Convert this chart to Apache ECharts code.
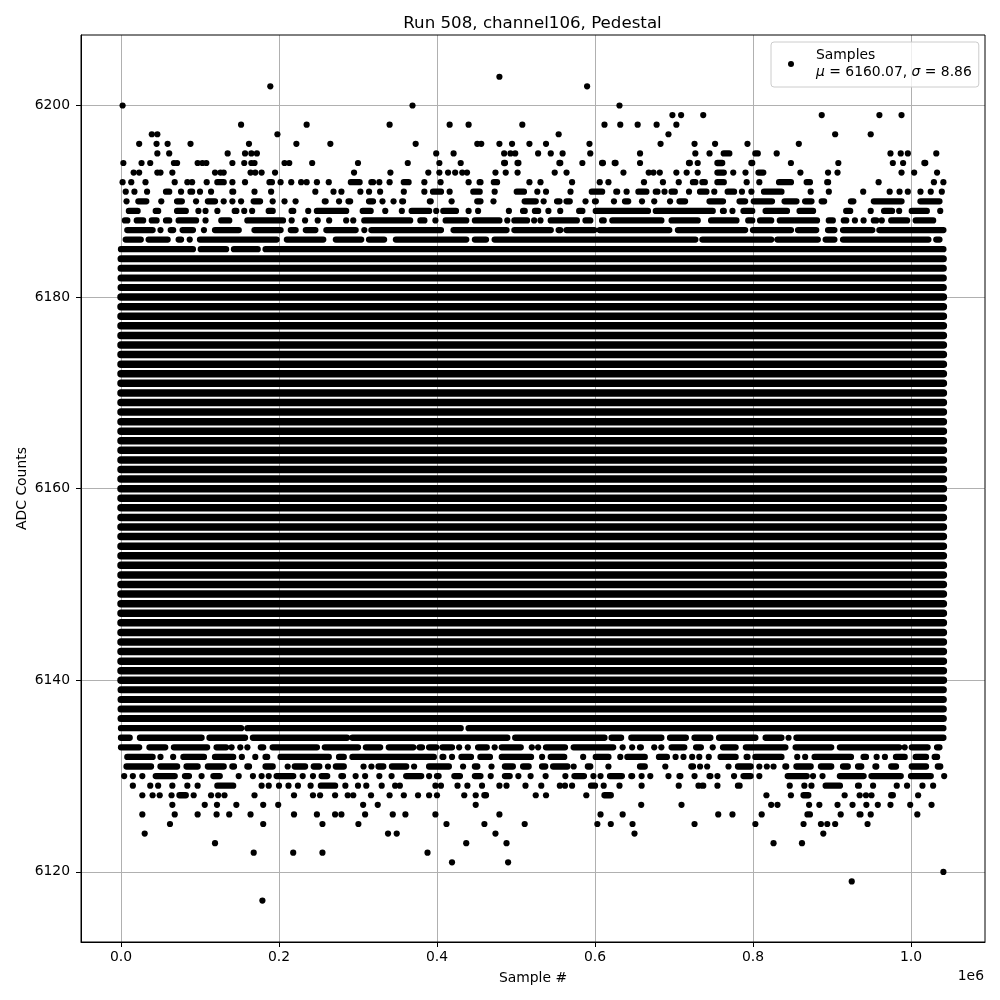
<!DOCTYPE html>
<html><head><meta charset="utf-8">
<script src="https://cdn.jsdelivr.net/npm/echarts@6/dist/echarts.min.js"></script>
<style>html,body{margin:0;padding:0;background:#fff}#c{width:1000px;height:1000px}</style></head>
<body><div id="c"></div>
<script>
const xTicks=[0,200000,400000,600000,800000,1000000];
const yTicks=[6120,6140,6160,6180,6200];
// Readings in thousands of samples per ADC level: a number is one dot, a pair is an unbroken run of dots
const L6203=[479];
const L6202=[189,590];
const L6200=[2,369,631];
const L6199=[698,709,737,887,960,988];
const L6198=[152,235,340,416,440,508,612,632,654,678,703];
const L6197=[39,46,198,554,693,904,949];
const L6196=[23,45,59,88,162,222,265,373,451,456,479,495,517,538,593,683,726,752,793,858];
const L6195=[46,61,135,157,165,172,399,421,485,493,499,528,544,559,594,657,727,745,[760,773],[800,809],830,974,987,996,1032];
const L6194=[3,26,37,67,71,97,103,108,141,156,165,169,207,213,242,300,363,403,430,[482,489],[499,506],[552,559],584,[606,613],[622,629],657,[716,723],730,[752,764],[795,802],848,908,977,[987,993],[1014,1021]];
const L6193=[16,23,46,50,65,119,126,130,164,170,178,195,295,341,389,403,414,423,432,438,474,487,502,549,564,636,668,674,682,703,[713,719],730,[752,766],775,[788,793],[804,816],860,895,907,988,1004,[1030,1036]];
const L6192=[2,13,31,68,84,90,[106,111],[119,133],141,157,[185,194],202,[213,218],228,235,[245,251],[260,266],[288,305],[314,322],327,340,[355,367],384,[402,407],440,[451,458],[469,479],[514,520],531,571,606,617,[659,665],[683,689],706,[721,730],[733,742],[752,766],792,808,[830,851],[865,875],[891,898],959,1029,1041];
const L6191=[[3,9],17,33,[54,64],76,[85,93],100,114,[138,145],169,190,[243,249],269,279,303,[311,317],328,358,384,[392,408],416,[443,457],473,[498,513],527,[535,541],[567,571],[593,612],[624,631],640,[652,668],[674,682],688,[694,704],719,[730,744],751,[765,779],786,798,[811,839],873,[893,899],[937,942],973,[983,988],996,1012,1025,1039];
const L6190=[7,[19,35],51,[68,80],95,[107,122],130,141,[149,155],[165,179],192,207,[219,223],[255,262],276,[285,293],[311,322],331,345,[353,360],[388,395],[416,421],[448,458],[469,474],[508,528],535,[549,558],[561,571],[586,590],[597,604],624,[635,645],[658,661],675,695,[704,717],[742,765],[780,793],[798,827],[837,858],[863,877],[884,893],[921,930],[950,991],[1009,1039]];
const L6189=[[7,24],[41,50],[68,85],98,107,122,[141,149],156,166,[184,195],[213,221],237,[245,288],[303,319],[332,337],[353,358],[365,393],399,[405,427],440,452,491,[506,514],[521,531],541,556,[577,587],[598,670],[674,752],[759,766],774,[785,802],[813,846],[856,879],[915,926],949,[963,979],985,[998,1023],1037];
const L6188=[[2,11],[17,31],[36,48],[54,64],[70,98],107,[124,140],[157,208],216,[231,235],249,[261,266],285,294,[305,369],[376,387],398,[408,440],[445,482],489,[495,517],523,531,[541,580],[585,597],[606,614],[619,687],[694,733],[744,782],[791,802],[806,826],[831,884],[893,904],[912,921],929,940,[950,959],963,[972,998],[1003,1031]];
const L6187=[[5,43],50,[60,69],[75,94],[102,108],[116,152],[166,205],[212,224],[231,249],[257,300],308,[314,408],[418,491],[495,547],[551,559],[561,602],[603,697],[702,793],[797,851],[854,883],[892,906],[911,954],[957,1041]];
const L6186=[[3,28],[32,62],[70,79],87,[97,200],[207,259],[269,307],[311,336],[345,440],[445,465],[470,730],[733,826],[828,885],[889,906],[911,1025],[1029,1039]];
const L6185=[[0,94],[98,136],[140,176],[180,1041]];
const outerLevels=[6136,6137,6138,6139,6181,6182,6183,6184];
const coreLevels=[6140,6141,6142,6143,6144,6145,6146,6147,6148,6149,6150,6151,6152,6153,6154,6155,6156,6157,6158,6159,6160,6161,6162,6163,6164,6165,6166,6167,6168,6169,6170,6171,6172,6173,6174,6175,6176,6177,6178,6179,6180];
const fullRange=[0,1041];
const L6135=[[0,155],[157,433],[437,1041]];
const L6134=[[0,14],[21,105],[109,160],[164,289],[290,492],[496,615],[618,636],[643,687],[692,718],[723,749],[754,806],[813,839],845,[852,1041]];
const L6133=[[0,26],[33,59],[64,112],[118,136],140,151,160,[174,183],[189,251],[255,303],[307,331],[336,373],[375,384],[387,402],[404,422],428,439,[449,466],473,[479,509],520,528,[535,565],[570,626],635,647,[654,661],675,684,[694,716],[725,737],749,[759,781],[788,844],[851,902],[907,988],992,[998,1024],[1030,1039]];
const L6132=[[5,43],50,66,[76,108],[116,145],[150,156],170,[180,188],[199,266],[273,285],[290,399],[404,411],419,[428,446],[452,470],[479,522],533,[541,564],[582,588],[598,620],632,[638,666],[678,694],702,712,723,[731,733],[741,747],[756,781],[789,796],[800,839],856,[864,868],[875,927],[937,946],[954,959],[964,970],[978,995],[1003,1022],[1027,1036]];
const L6131=[[4,41],[47,74],[80,100],[107,133],[138,146],[157,165],[180,195],211,[217,236],[241,254],262,[269,285],307,317,[323,335],[340,364],371,[387,418],433,[445,454],469,[483,499],[506,519],[530,540],[544,568],573,[588,597],[614,620],[654,666],689,[719,727],733,742,769,[778,800],808,[815,820],826,[838,845],[852,876],[883,902],[911,923],[930,940],[952,959],[972,984],[998,1022],[1031,1040]];
const L6130=[4,[12,18],[24,30],[41,71],[78,89],102,[114,128],149,[164,170],178,187,[194,221],230,243,[251,264],[276,284],297,309,327,[340,345],[358,383],390,[397,405],[419,432],[445,458],[465,471],[483,495],503,[516,521],[535,540],[560,565],[571,589],598,607,[616,637],[643,650],659,670,693,[704,711],726,[742,749],755,776,[785,800],808,[841,871],876,888,[907,943],[947,990],[997,1028],1042];
const L6129=[[13,17],37,47,[62,68],[81,87],97,[119,145],178,187,[197,203],212,224,240,[250,274],284,300,[308,313],330,[344,350],353,398,405,426,[436,441],457,479,488,512,532,[553,558],562,571,[592,603],611,631,659,706,731,[733,740],755,[778,786],[844,849],865,874,[889,913],[930,937],952,982,[992,998],[1012,1017],1028];
const L6128=[27,40,49,64,[71,85],92,114,123,131,169,219,[241,245],252,271,287,294,[314,319],340,358,[373,379],390,400,[432,437],449,[457,465],525,538,589,[609,623],817,[845,851],[861,873],916,935,943,950,[972,980],1009];
const L6127=[65,106,[119,124],146,180,199,[304,309],325,449,[656,661],[707,712],823,831,871,884,907,926,[941,946],958,974,999,1026];
const L6126=[27,68,97,121,137,164,219,[245,251],271,279,309,344,360,398,479,607,635,756,774,811,[866,875],911,[932,939],949,1008];
const L6125=[62,180,255,[298,303],412,460,511,603,620,[645,650],726,803,864,886,894,904,945];
const L6124=[30,338,349,474,650,889];
const L6123=[119,437,488,826,862];
const L6122=[168,218,255,388];
const L6121=[419,490];
const L6120=[1041];
const L6119=[925];
const L6117=[179];

const rows=[[6203,L6203],[6202,L6202],[6200,L6200],[6199,L6199],[6198,L6198],[6197,L6197],[6196,L6196],[6195,L6195],[6194,L6194],[6193,L6193],[6192,L6192],[6191,L6191],[6190,L6190],[6189,L6189],[6188,L6188],[6187,L6187],[6186,L6186],[6185,L6185],[6135,L6135],[6134,L6134],[6133,L6133],[6132,L6132],[6131,L6131],[6130,L6130],[6129,L6129],[6128,L6128],[6127,L6127],[6126,L6126],[6125,L6125],[6124,L6124],[6123,L6123],[6122,L6122],[6121,L6121],[6120,L6120],[6119,L6119],[6117,L6117]];

// Run ends were read at the outer edge of the dots, so a run's dot centres sit a little inside
const edgeOffset=3;
const dots=[],runs=[];
rows.forEach(([lvl,items])=>items.forEach(it=>{
  if(Array.isArray(it)){
    const a=it[0]===0?0:it[0]+edgeOffset, b=it[1]===1041?1041:it[1]-edgeOffset;
    if(b<=a) dots.push([(it[0]+it[1])*500,lvl]);
    else runs.push([a*1000,lvl],[b*1000,lvl],['-','-']);
  } else dots.push([it*1000,lvl]);
}));
const rowsFor=levels=>levels.flatMap(v=>[[fullRange[0]*1000,v],[fullRange[1]*1000,v],['-','-']]);

const FONT='"DejaVu Sans"';
const lineSeries=(data,width)=>({name:'Samples',type:'line',data,showSymbol:false,symbol:'none',connectNulls:false,
  lineStyle:{color:'#000',width,cap:'round',join:'round'},itemStyle:{color:'#000'},z:4});
const chart=echarts.init(document.getElementById('c'),null,{renderer:'canvas'});
chart.setOption({
  animation:false,
  backgroundColor:'#fff',
  textStyle:{fontFamily:FONT},
  title:{text:'Run 508, channel106, Pedestal',left:527.5,top:10,textAlign:'center',
    textStyle:{fontFamily:FONT,fontSize:16.67,fontWeight:'normal',color:'#000'}},
  grid:{left:81,top:35,width:904,height:907,outerBoundsMode:'none',show:true,borderColor:'#000',borderWidth:1,backgroundColor:'transparent',z:3},
  legend:{show:true,left:771,top:42,orient:'vertical',data:['Samples'],icon:'circle',itemWidth:30,itemHeight:6,
    padding:[5,7,6,17],borderColor:'#ccc',borderWidth:1,borderRadius:3,backgroundColor:'rgba(255,255,255,0.8)',
    formatter:()=>'Samples\n{i|μ} = 6160.07, {i|σ} = 8.86',
    textStyle:{fontFamily:FONT,fontSize:13.9,color:'#000',lineHeight:17,padding:[0,0,0,5],
      rich:{i:{fontFamily:FONT,fontStyle:'italic',fontSize:13.9,lineHeight:17}}}},
  xAxis:{type:'value',min:-50633,max:1093671,scale:true,
    name:'Sample #',nameLocation:'middle',nameGap:29,nameTextStyle:{fontFamily:FONT,fontSize:13.9,color:'#000'},
    axisLine:{show:true,onZero:false,lineStyle:{color:'#000',width:1}},
    axisTick:{show:true,length:5,customValues:xTicks,lineStyle:{color:'#000',width:1}},
    axisLabel:{customValues:xTicks,margin:8,fontFamily:FONT,fontSize:13.9,color:'#000',formatter:v=>(v/1e6).toFixed(1)},
    splitLine:{show:true,lineStyle:{color:'#b0b0b0',width:1}}},
  yAxis:{type:'value',min:6112.68,max:6207.36,scale:true,
    name:'ADC Counts',nameLocation:'middle',nameGap:52,nameMoveOverlap:false,nameRotate:90,nameTextStyle:{fontFamily:FONT,fontSize:13.9,color:'#000'},
    axisLine:{show:true,onZero:false,lineStyle:{color:'#000',width:1}},
    axisTick:{show:true,length:5,customValues:yTicks,lineStyle:{color:'#000',width:1}},
    axisLabel:{customValues:yTicks,margin:11,padding:[3,0,0,0],fontFamily:FONT,fontSize:13.9,color:'#000',formatter:v=>String(v)},
    splitLine:{show:true,lineStyle:{color:'#b0b0b0',width:1}}},
  graphic:[{type:'text',right:16,top:969,style:{text:'1e6',fontFamily:FONT,fontSize:13.9,fill:'#000'}}],
  series:[
    {name:'Samples',type:'scatter',data:dots,symbol:'circle',symbolSize:6.2,itemStyle:{color:'#000',opacity:1},z:4},
    lineSeries(runs,6.3),
    lineSeries(rowsFor(outerLevels),7),
    lineSeries(rowsFor(coreLevels),7.5)
  ]
});
</script></body></html>
